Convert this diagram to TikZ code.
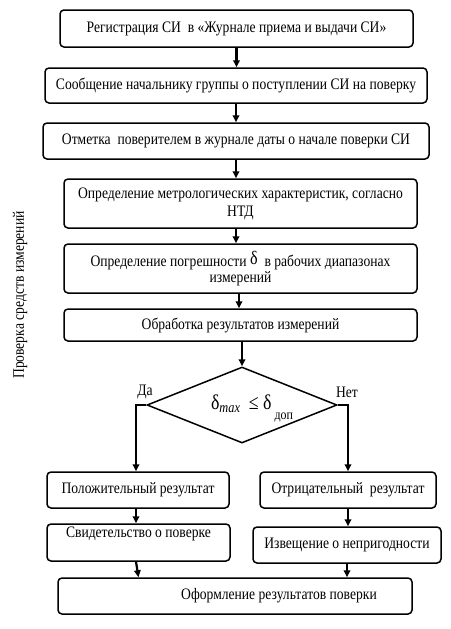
\documentclass[tikz,border=0pt]{standalone}
\usepackage{fontspec}
\setmainfont{Liberation Serif}[FakeStretch=0.85]
\usetikzlibrary{arrows.meta,shapes.geometric}
\begin{document}
\begin{tikzpicture}[x=1pt,y=-1pt,
  box/.style={draw, line width=1.5pt, rounded corners=4pt, inner sep=0pt, align=center, font=\fontsize{16}{18}\selectfont},
  arr/.style={line width=2.2pt, -{Triangle[length=7pt,width=6.5pt]}},
  lbl/.style={inner sep=0pt, font=\fontsize{16}{16}\selectfont}]
\useasboundingbox (0,0) rectangle (450,629);
\node[box, minimum width=353, minimum height=37] (b1) at (236.5,28.5) {Регистрация СИ \ в «Журнале приема и выдачи СИ»};
\node[box, minimum width=382, minimum height=35] (b2) at (236,85.5) {Сообщение начальнику группы о поступлении СИ на поверку};
\node[box, minimum width=386, minimum height=36] (b3) at (236,141) {Отметка \ поверителем в журнале даты о начале поверки СИ};
\node[box, minimum width=353, minimum height=49] (b4) at (240.5,203.5) {Определение метрологических характеристик, согласно\\НТД};
\node[box, minimum width=353, minimum height=49] (b5) at (240.5,268.5) {Определение погрешности \raisebox{2pt}{\fontsize{19}{19}\selectfont δ} \ в рабочих диапазонах\\[-2pt]измерений};
\node[box, minimum width=353, minimum height=32] (b6) at (240.5,325) {Обработка результатов измерений};
\node[draw, diamond, line width=1.5pt, minimum width=190, minimum height=76, inner sep=0pt] (d) at (242,405) {};
\node[lbl] (dt) at (252,409) {\fontsize{21}{21}\selectfont δ\raisebox{-3pt}{\fontsize{14.5}{14.5}\selectfont\itshape max}\ \ ≤ δ\raisebox{-10pt}{\fontsize{14}{14}\selectfont\ доп}};
\node[lbl] (da) at (145,392) {Да};
\node[lbl] (net) at (347,392) {Нет};
\node[box, minimum width=182, minimum height=36] (b7) at (138,490) {Положительный результат};
\node[box, minimum width=176, minimum height=36] (b8) at (348,490) {Отрицательный \ результат};
\node[box, minimum width=183, minimum height=37] (b9) at (138.5,542.5) {Свидетельство о поверке\\[2pt]};
\node[box, minimum width=188, minimum height=36] (b10) at (347,545) {Извещение о непригодности};
\node[box, minimum width=354, minimum height=36] (b11) at (235,596) {\hspace*{88pt}Оформление результатов поверки};
\node[lbl, rotate=90] (side) at (20,295) {Проверка средств измерений};
\draw[arr] (b1.south) -- (b1.south |- b2.north);
\draw[arr] (b2.south) -- (b2.south |- b3.north);
\draw[arr] (b3.south) -- (b3.south |- b4.north);
\draw[arr] ([xshift=-4.5pt]b4.south) -- ([xshift=-4.5pt]b5.north);
\draw[arr] ([xshift=-1.5pt]b5.south) -- ([xshift=-1.5pt]b6.north);
\draw[arr] ([xshift=1.5pt]b6.south) -- (d.north);
\draw[arr] (d.west) -| ([xshift=-2pt]b7.north);
\draw[arr] (d.east) -| (b8.north);
\draw[arr] ([xshift=-2pt]b7.south) -- ([xshift=-2.5pt]b9.north);
\draw[arr] (b8.south) -- ([xshift=1pt]b10.north);
\draw[arr] ([xshift=-2.5pt]b9.south) -- (b9.south |- b11.north);
\draw[arr] (b10.south) -- (b10.south |- b11.north);
\end{tikzpicture}
\end{document}
